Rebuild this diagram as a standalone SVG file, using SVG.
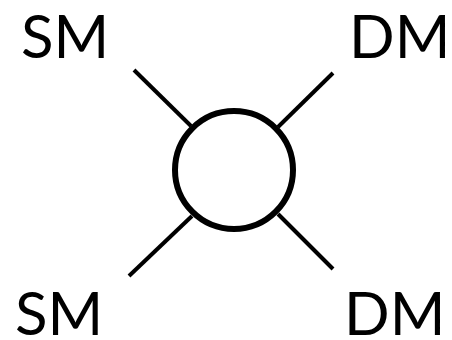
<svg xmlns="http://www.w3.org/2000/svg" width="452" height="340" viewBox="0 0 452 340">
<style>
.lbl{font-family:Lato,"Liberation Sans",sans-serif;font-size:60px;fill:#000}
.leg{stroke:#000;stroke-width:4;fill:none}
</style>
<rect width="452" height="340" fill="#fff"/>
<g id="connectors">
<line class="leg" x1="134" y1="70" x2="191" y2="126"/>
<line class="leg" x1="333" y1="73" x2="278" y2="127"/>
<line class="leg" x1="129" y1="276" x2="192" y2="216"/>
<line class="leg" x1="333" y1="269" x2="278" y2="214"/>
</g>
<g id="vertex"><circle cx="234" cy="170" r="59" fill="none" stroke="#000" stroke-width="6"/></g>
<g id="sm-top"><text class="lbl" x="21" y="58">SM</text></g>
<g id="dm-top"><text class="lbl" x="349" y="58">DM</text></g>
<g id="sm-bottom"><text class="lbl" x="15" y="335">SM</text></g>
<g id="dm-bottom"><text class="lbl" x="344" y="335">DM</text></g>
</svg>
